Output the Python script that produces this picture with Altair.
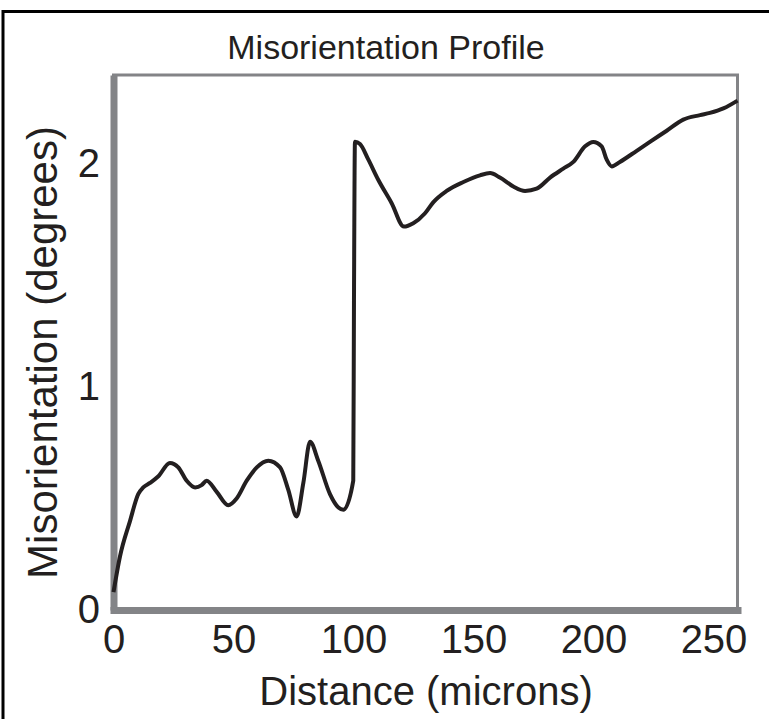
import altair as alt
import pandas as pd

# Misorientation profile along the scan line
distance = [0, 2.7, 6.9, 10.3, 12.4, 15.2, 18.7, 23.5, 27.0, 30.5,
            34.0, 36.7, 38.8, 43.0, 47.8, 51.3, 55.5, 59.7, 64.5, 69.4,
            72.8, 76.3, 79.1, 81.9, 85.3, 90.2, 93.7, 95.8, 99.9, 100.2,
            100.6, 102.7, 106.2, 110.3, 115.9, 121.0, 124.9, 129.8, 133.3, 138.8,
            145.8, 152.7, 156.9, 161.0, 166.6, 171.5, 176.3, 181.9, 187.4, 191.6,
            196.5, 199.9, 203.4, 205.5, 207.6, 211.0, 218.0, 223.5, 230.5, 237.4,
            244.4, 248.5, 254.1, 260]
misorientation = [0.08, 0.24, 0.40, 0.52, 0.55, 0.57, 0.60, 0.66, 0.64, 0.58,
                  0.55, 0.56, 0.58, 0.53, 0.47, 0.50, 0.58, 0.64, 0.67, 0.64,
                  0.54, 0.42, 0.57, 0.755, 0.67, 0.52, 0.46, 0.45, 0.58, 1.39,
                  2.10, 2.09, 2.02, 1.93, 1.825, 1.72, 1.735, 1.78, 1.83, 1.88,
                  1.92, 1.95, 1.96, 1.94, 1.90, 1.88, 1.89, 1.94, 1.98, 2.01,
                  2.08, 2.10, 2.08, 2.02, 1.99, 2.01, 2.06, 2.10, 2.15, 2.20,
                  2.22, 2.23, 2.25, 2.285]

x_ticks = [0, 50, 100, 150, 200, 250]
y_ticks = [0, 1, 2]
chart_title = "Misorientation Profile"

df = pd.DataFrame({"distance": distance, "misorientation": misorientation})
one = pd.DataFrame({"k": [0]})

GREY = "#838487"
INK = "#231f20"
FONT = "Liberation Sans, Arial, Helvetica, sans-serif"

line = alt.Chart(df).mark_line(
    color=INK, strokeWidth=4, interpolate="monotone"
).encode(
    x=alt.X("distance:Q",
            scale=alt.Scale(domain=[0, 260], nice=False, zero=False),
            axis=alt.Axis(values=x_ticks, title="Distance (microns)",
                          labelFlush=False, labelPadding=10, titlePadding=12,
                          domainCap="square")),
    y=alt.Y("misorientation:Q",
            scale=alt.Scale(domain=[0, 2.4], nice=False),
            axis=alt.Axis(values=y_ticks, title="Misorientation (degrees)",
                          labelPadding=14, titlePadding=12, titleFontSize=42,
                          titleY=277)),
)

# outer frame around the figure
frame = alt.Chart(one).mark_rect(
    fillOpacity=0, stroke="black", strokeWidth=3
).encode(
    x=alt.value(-110.5), x2=alt.value(700),
    y=alt.value(-63.5), y2=alt.value(700),
)

# heading above the plot box
heading = alt.Chart(one).mark_text(
    font=FONT, fontSize=34, color=INK, align="center", baseline="alphabetic",
).encode(
    x=alt.value(272.5), y=alt.value(-16), text=alt.value(chart_title),
)

chart = alt.layer(frame, heading, line).properties(
    width=624,
    height=535,
    padding={"left": 113.5, "top": 75, "right": 31.5, "bottom": 109},
    autosize=alt.AutoSizeParams(type="none"),
).configure_view(
    stroke=GREY, strokeWidth=3
).configure_axis(
    domainColor=GREY, domainWidth=7, ticks=False, grid=False,
    labelFont=FONT, labelFontSize=40, labelColor=INK,
    titleFont=FONT, titleFontSize=40, titleFontWeight="normal", titleColor=INK,
)

chart.save("out.html", embed_options={"renderer": "svg", "actions": False})
